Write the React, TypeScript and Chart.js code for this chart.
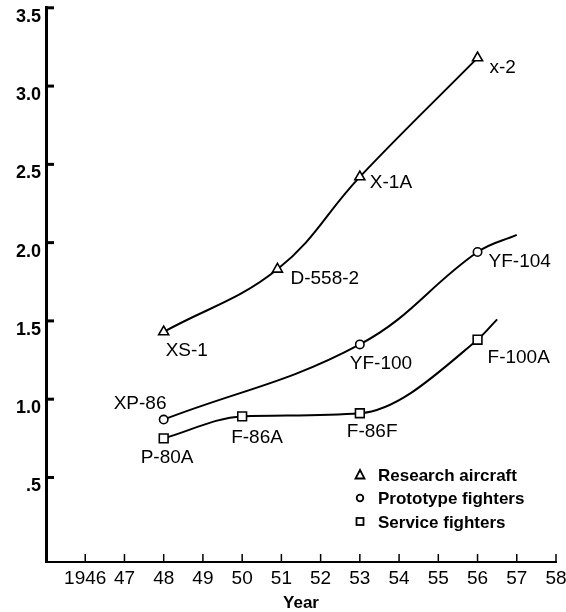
import React, { useEffect, useRef } from 'react';
import { Chart, registerables } from 'chart.js';

Chart.register(...registerables);

// ---- data ----
const xTickYears = [1946, 1947, 1948, 1949, 1950, 1951, 1952, 1953, 1954, 1955, 1956, 1957, 1958];
const yTickValues = [0.5, 1.0, 1.5, 2.0, 2.5, 3.0, 3.5];

const researchYears = [1948, 1950.9, 1953, 1956];
const researchValues = [1.43, 1.83, 2.42, 3.18];
const researchNames: (string | null)[] = ['XS-1', 'D-558-2', 'X-1A', 'x-2'];

const prototypeYears = [1948, 1953, 1956, 1957];
const prototypeValues = [0.87, 1.35, 1.94, 2.05];
const prototypeNames: (string | null)[] = ['XP-86', 'YF-100', 'YF-104', null];

const serviceYears = [1948, 1950, 1953, 1956, 1956.5];
const serviceValues = [0.75, 0.89, 0.91, 1.38, 1.51];
const serviceNames: (string | null)[] = ['P-80A', 'F-86A', 'F-86F', 'F-100A', null];

const legendNames = ['Research aircraft', 'Prototype fighters', 'Service fighters'];
const xTitle = 'Year';

// ---- label placement (style, not data) ----
const LABEL_OFFSETS: Record<string, [number, number]> = {
  'XS-1': [2, 19],
  'D-558-2': [13, 10],
  'X-1A': [10, 6],
  'x-2': [12, 10],
  'XP-86': [-50, -16],
  'YF-100': [-10, 19],
  'YF-104': [11, 10],
  'P-80A': [-23, 19],
  'F-86A': [-11, 21],
  'F-86F': [-13, 18],
  'F-100A': [10, 18],
};

const FONT = '"Liberation Sans", Arial, Helvetica, sans-serif';
const allNames = [researchNames, prototypeNames, serviceNames];
const pointStyles = ['triangle', 'circle', 'rect'] as const;
const pointRadii = [5.8, 4.2, 6.2];
const interpModes = ['default', 'default', 'monotone'] as const;

const toXY = (xs: number[], ys: number[]) => xs.map((x, i) => ({ x, y: ys[i] }));

const tickMarksPlugin = {
  id: 'tickMarks',
  afterDraw(chart: any) {
    const { ctx, chartArea, scales } = chart;
    ctx.save();
    ctx.strokeStyle = '#000';
    ctx.lineWidth = 3;
    for (const v of yTickValues) {
      const py = scales.y.getPixelForValue(v);
      ctx.beginPath();
      ctx.moveTo(chartArea.left, py);
      ctx.lineTo(chartArea.left + 8, py);
      ctx.stroke();
    }
    ctx.lineWidth = 1.5;
    for (const v of xTickYears) {
      const px = scales.x.getPixelForValue(v);
      ctx.beginPath();
      ctx.moveTo(px, chartArea.bottom);
      ctx.lineTo(px, chartArea.bottom - 8);
      ctx.stroke();
    }
    ctx.restore();
  },
};

const pointLabelsPlugin = {
  id: 'pointLabels',
  afterDatasetsDraw(chart: any) {
    const { ctx } = chart;
    ctx.save();
    ctx.fillStyle = '#000';
    ctx.font = `19px ${FONT}`;
    ctx.textAlign = 'left';
    ctx.textBaseline = 'middle';
    allNames.forEach((names, di) => {
      const meta = chart.getDatasetMeta(di);
      names.forEach((name, i) => {
        if (!name) return;
        const el = meta.data[i];
        const off = LABEL_OFFSETS[name] || [8, 8];
        ctx.fillText(name, el.x + off[0], el.y + off[1]);
      });
    });
    ctx.restore();
  },
};

const customLegendPlugin = {
  id: 'customLegend',
  afterDraw(chart: any) {
    const { ctx } = chart;
    const mx = 360;
    const tx = 378;
    const ys = [475, 498, 522];
    ctx.save();
    ctx.strokeStyle = '#000';
    ctx.fillStyle = '#000';
    ctx.lineWidth = 1.8;
    // triangle
    ctx.beginPath();
    ctx.moveTo(mx, ys[0] - 5);
    ctx.lineTo(mx + 4.5, ys[0] + 3.5);
    ctx.lineTo(mx - 4.5, ys[0] + 3.5);
    ctx.closePath();
    ctx.stroke();
    // circle
    ctx.beginPath();
    ctx.arc(mx, ys[1], 3.3, 0, Math.PI * 2);
    ctx.stroke();
    // square
    ctx.strokeRect(mx - 3.5, ys[2] - 4, 7, 7);
    ctx.font = `bold 17px ${FONT}`;
    ctx.textAlign = 'left';
    ctx.textBaseline = 'middle';
    legendNames.forEach((n, i) => ctx.fillText(n, tx, ys[i] + 1));
    ctx.restore();
  },
};

export default function App() {
  const canvasRef = useRef<HTMLCanvasElement | null>(null);

  useEffect(() => {
    if (!canvasRef.current) return;
    const seriesXs = [researchYears, prototypeYears, serviceYears];
    const seriesYs = [researchValues, prototypeValues, serviceValues];
    const chart = new Chart(canvasRef.current, {
      type: 'line',
      data: {
        datasets: legendNames.map((label, di) => ({
          label,
          data: toXY(seriesXs[di], seriesYs[di]),
          borderColor: '#000',
          borderWidth: 2,
          fill: false,
          tension: 0.4,
          cubicInterpolationMode: interpModes[di],
          pointStyle: pointStyles[di],
          pointRadius: (c: any) => (allNames[di][c.dataIndex] ? pointRadii[di] : 0),
          pointBackgroundColor: '#fff',
          pointBorderColor: '#000',
          pointBorderWidth: 1.6,
        })),
      },
      options: {
        animation: false,
        responsive: true,
        maintainAspectRatio: false,
        layout: { padding: { top: 7, right: 10, bottom: 0, left: 0 } },
        plugins: {
          legend: { display: false },
          tooltip: { enabled: false },
        },
        scales: {
          x: {
            type: 'linear',
            min: 1945,
            max: 1958,
            grid: { display: false, drawTicks: false },
            border: { display: true, color: '#000', width: 2 },
            afterBuildTicks: (s: any) => {
              s.ticks = xTickYears.map((v) => ({ value: v }));
            },
            afterFit: (s: any) => {
              s.height = 50;
              s.paddingLeft = 0;
              s.paddingRight = 0;
            },
            ticks: {
              color: '#000',
              padding: 5,
              maxRotation: 0,
              autoSkip: false,
              font: { family: FONT, size: 19 },
              callback: (v: any) => (v === 1946 ? '1946' : String(Number(v) % 100)),
            },
            title: {
              display: true,
              text: xTitle,
              color: '#000',
              padding: 0,
              font: { family: FONT, size: 17, weight: 'bold', lineHeight: 1 },
            },
          },
          y: {
            type: 'linear',
            min: -0.04,
            max: 3.5,
            grid: { display: false, drawTicks: false },
            border: { display: true, color: '#000', width: 3 },
            afterBuildTicks: (s: any) => {
              s.ticks = yTickValues.map((v) => ({ value: v }));
            },
            afterFit: (s: any) => {
              s.width = 46;
              s.paddingTop = 0;
              s.paddingBottom = 0;
            },
            ticks: {
              color: '#000',
              padding: 5,
              labelOffset: 9,
              autoSkip: false,
              font: { family: FONT, size: 18, weight: 'bold' },
              callback: (v: any) => (Number(v) === 0.5 ? '.5' : Number(v).toFixed(1)),
            },
          },
        },
      },
      plugins: [tickMarksPlugin, pointLabelsPlugin, customLegendPlugin],
    } as any);
    return () => chart.destroy();
  }, []);

  return (
    <div style={{ position: 'absolute', left: 0, top: 0, width: 566, height: 612, background: '#fff' }}>
      <canvas ref={canvasRef} />
    </div>
  );
}
